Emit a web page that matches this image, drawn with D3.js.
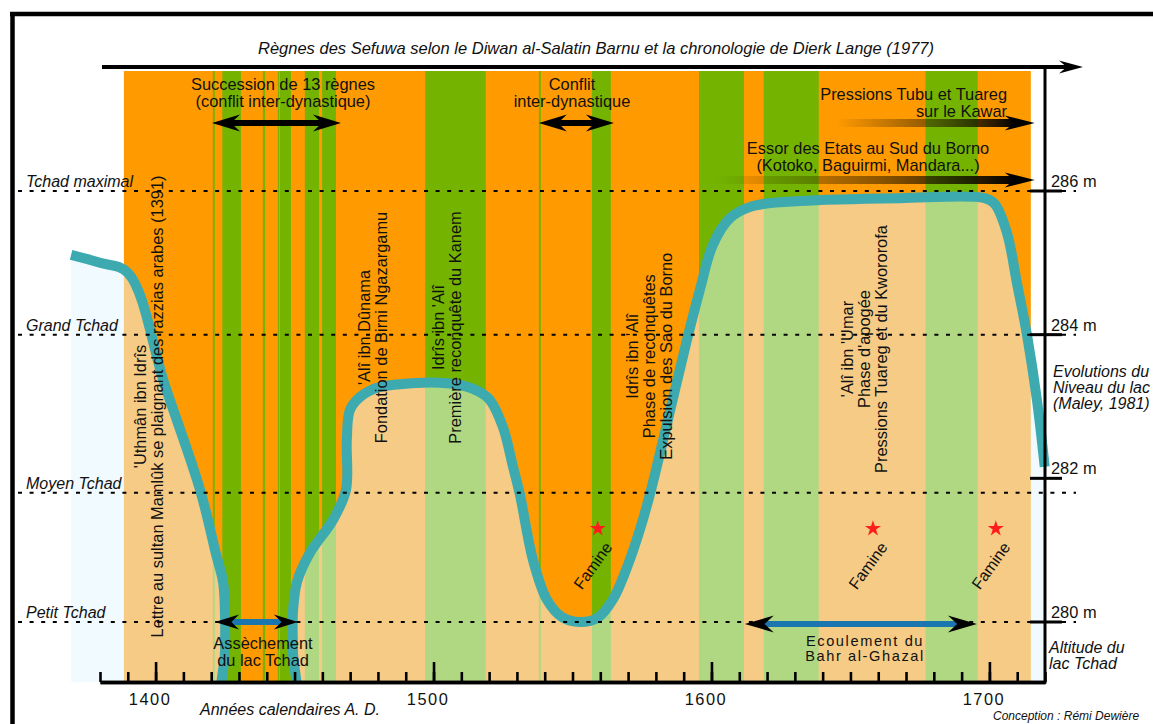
<!DOCTYPE html>
<html><head><meta charset="utf-8">
<script src="https://cdn.jsdelivr.net/npm/d3@7"></script>
<style>
body{margin:0;background:#fff;overflow:hidden;}
svg{display:block;font-family:"Liberation Sans",Arial,sans-serif;}
</style></head><body>
<svg id="c" width="1153" height="724"></svg>
<script>
// ---------------- DATA ----------------
const lakeYears = [1369.6,1380.0,1390.1,1403.3,1416.0,1421.7,1424.3,1425.0,1425.0,1425.0,
  1449.4,1449.4,1449.4,1450.9,1455.5,1463.8,1468.5,1468.8,1469.9,1473.5,1479.6,1487.9,1502.3,1510.6,
  1516.7,1520.3,1525.0,1528.6,1531.1,1535.8,1540.8,1546.2,1552.7,1559.1,1564.5,1569.9,1574.2,1577.8,
  1584.3,1591.2,1595.8,1600.5,1606.6,1614.9,1631.8,1667.8,1698.3,1701.9,1706.3,1709.9,1713.5,1717.1,1719.9];
const lakeAlt = [285.11,285.00,284.86,283.30,281.84,280.95,280.55,280.03,279.61,278.64,
  278.64,279.61,280.13,280.56,280.96,281.42,281.84,282.53,282.95,283.13,283.26,283.31,283.33,283.29,
  283.20,283.09,282.71,282.16,281.77,280.86,280.31,280.07,280.00,280.06,280.31,280.79,281.28,281.77,
  282.81,283.93,284.62,285.25,285.62,285.79,285.86,285.90,285.90,285.82,285.42,284.72,284.00,283.09,282.16];

const reignSpan = [1388.6, 1714.9];
const greenReignStart = [1420.6,1424.0,1438.6,1444.0,1444.7,1453.7,1459.9,1497.0,1537.9,1557.0,1595.5,1618.8,1677.0];
const greenReignEnd   = [1421.3,1430.7,1439.4,1444.4,1448.7,1458.8,1464.9,1518.8,1538.6,1563.8,1611.7,1638.6,1695.8];

const levelNames = ["Tchad maximal","Grand Tchad","Moyen Tchad","Petit Tchad"];
const levelAlts = [286, 284, 281.8, 280];
const altTicks = [286, 284, 282, 280];
const altTickLabels = ["286 m","284 m","282 m","280 m"];
const yearMajor = [1400,1500,1600,1700];
const yearMinor = d3.range(1380, 1721, 10);

const famineYears = [1559.1, 1658.1, 1702.3];
const famineAlt = 281.3;

const reignTexts = [
  ["'Uthmân ibn Idrîs","Lettre au sultan Mamlûk se plaignant des razzias arabes (1391)"],
  ["'Alî ibn Dûnama","Fondation de Birni Ngazargamu"],
  ["Idrîs ibn 'Alî","Première reconquête du Kanem"],
  ["Idrîs ibn 'Alî","Phase de reconquêtes","Expulsion des Sao du Borno"],
  ["'Alî ibn 'Umar","Phase d'apogée","Pressions Tuareg et du Kwororofa"]
];
const reignTextYears = [1396.4, 1477.2, 1503.8, 1573.7, 1651.1];
const reignTextAlts = [283.0, 284.1, 284.1, 283.7, 283.8];

const conflictLabels = [["Succession de 13 règnes","(conflit inter-dynastique)"],["Conflit","inter-dynastique"]];
const conflictStart = [1420.3, 1537.9];
const conflictEnd = [1466.7, 1564.9];

const pressureLabels = [["Pressions Tubu et Tuareg","sur le Kawar"],["Essor des Etats au Sud du Borno","(Kotoko, Baguirmi, Mandara...)"]];
const pressureStart = [1645.1, 1601.2];
const pressureEnd = [1716.3, 1716.3];

const waterLabels = [["Assèchement","du lac Tchad"],["Ecoulement du","Bahr al-Ghazal"]];
const waterStart = [1421.4, 1612.0];
const waterEnd = [1451.2, 1695.5];

// ---------------- LAYOUT ----------------
const C = {orange:"#ff9a00", green:"#74b400", paleOrange:"#f5cb85", paleGreen:"#b0d882",
  blue:"#f0faff", teal:"#3daab0", water:"#1b76b0", star:"#ff1c1c"};
const svg = d3.select("#c");
const x = d3.scaleLinear().domain([1380,1720]).range([100,1045]);
const y = d3.scaleLinear().domain([280,286]).range([622,191]);
const axisY = 682, bandTop = 71;
const F = 16.4;

// frame
svg.append("line").attr("x1",10).attr("x2",1153).attr("y1",14).attr("y2",14).attr("stroke","#000").attr("stroke-width",4.5);
svg.append("line").attr("x1",12.5).attr("x2",12.5).attr("y1",12).attr("y2",724).attr("stroke","#000").attr("stroke-width",4.5);

const defs = svg.append("defs");
const pts = lakeYears.map((d,i)=>[d, lakeAlt[i]]);
const curve = d3.curveCatmullRom.alpha(0.5);
const area = d3.area().x(d=>x(d[0])).y1(d=>y(d[1])).y0(axisY).curve(curve);
const line = d3.line().x(d=>x(d[0])).y(d=>y(d[1])).curve(curve);
defs.append("clipPath").attr("id","lake").append("path").attr("d", area(pts));
defs.append("clipPath").attr("id","plot").append("rect").attr("x",0).attr("y",0).attr("width",1153).attr("height",axisY);
const grad = defs.append("linearGradient").attr("id","fade").attr("x1","0").attr("x2","1").attr("y1","0").attr("y2","0");
grad.append("stop").attr("offset","0").attr("stop-color","#2a1a00").attr("stop-opacity",0);
grad.append("stop").attr("offset","0.55").attr("stop-color","#2a1a00").attr("stop-opacity",0.55);
grad.append("stop").attr("offset","1").attr("stop-color","#000").attr("stop-opacity",1);

const greens = greenReignStart.map((s,i)=>[s, greenReignEnd[i]]);
// full-colour bands
const bands = svg.append("g");
bands.append("rect").attr("x",x(reignSpan[0])).attr("width",x(reignSpan[1])-x(reignSpan[0]))
  .attr("y",bandTop).attr("height",axisY-bandTop).attr("fill",C.orange);
bands.selectAll(".g").data(greens).join("rect").attr("x",d=>x(d[0])).attr("width",d=>x(d[1])-x(d[0]))
  .attr("y",bandTop).attr("height",axisY-bandTop).attr("fill",C.green);
// pale (under lake curve)
const pale = svg.append("g").attr("clip-path","url(#lake)");
pale.append("rect").attr("x",x(lakeYears[0])).attr("width",x(1720)-x(lakeYears[0])).attr("y",bandTop).attr("height",axisY-bandTop).attr("fill",C.blue);
pale.append("rect").attr("x",x(reignSpan[0])).attr("width",x(reignSpan[1])-x(reignSpan[0]))
  .attr("y",bandTop).attr("height",axisY-bandTop).attr("fill",C.paleOrange);
pale.selectAll(".g").data(greens).join("rect").attr("x",d=>x(d[0])).attr("width",d=>x(d[1])-x(d[0]))
  .attr("y",bandTop).attr("height",axisY-bandTop).attr("fill",C.paleGreen);

// lake line
svg.append("g").attr("clip-path","url(#plot)").append("path").attr("d",line(pts))
  .attr("fill","none").attr("stroke",C.teal).attr("stroke-width",10).attr("stroke-linejoin","round");

// level dotted lines
svg.selectAll(".lvl").data(levelAlts).join("line").attr("x1",18).attr("x2",1076)
  .attr("y1",d=>y(d)).attr("y2",d=>y(d)).attr("stroke","#000").attr("stroke-width",2).attr("stroke-dasharray","4,7.6");
svg.selectAll(".lvlt").data(levelNames).join("text").attr("x",26).attr("y",(d,i)=>y(levelAlts[i])-4)
  .attr("font-size",F-0.4).attr("font-style","italic").attr("fill","#111").text(d=>d);

// reign vertical texts
reignTexts.forEach((lines,i)=>{
  const g = svg.append("g").attr("transform",`translate(${x(reignTextYears[i])},${y(reignTextAlts[i])}) rotate(-90)`);
  g.selectAll("text").data(lines).join("text").attr("x",0).attr("y",(d,j)=>j*17)
    .attr("text-anchor","middle").attr("font-size",F).attr("fill","#111").text(d=>d);
});

// arrow helpers
function head(g, tx, ty, dir, L, H){
  g.append("path").attr("d",`M${tx},${ty} L${tx-dir*L},${ty-H/2} L${tx-dir*L*0.68},${ty} L${tx-dir*L},${ty+H/2} Z`).attr("fill","#000");
}
function centerText(g, lines, cx, by, sp, fs, ls){
  g.selectAll(null).data(lines).join("text").attr("x",cx).attr("y",(d,j)=>by+j*sp)
   .attr("text-anchor","middle").attr("font-size",fs||F).attr("fill","#111").attr("letter-spacing",ls||0).text(d=>d);
}
// conflict arrows (black double)
const ann = svg.append("g");
const conflictTextX = [283, 572];
conflictLabels.forEach((lines,i)=>{
  const x1 = x(conflictStart[i]), x2 = x(conflictEnd[i]), yy = 123;
  ann.append("line").attr("x1",x1+15).attr("x2",x2-15).attr("y1",yy).attr("y2",yy).attr("stroke","#000").attr("stroke-width",6);
  head(ann, x1, yy, -1, 28, 17); head(ann, x2, yy, 1, 28, 17);
  centerText(ann, lines, conflictTextX[i], 90, 17);
});
// pressure arrows (fading)
pressureLabels.forEach((lines,i)=>{
  const x1 = x(pressureStart[i]), x2 = x(pressureEnd[i]), yy = i===0?123:180;
  ann.append("rect").attr("x",x1).attr("width",x2-x1-18).attr("y",yy-4).attr("height",8).attr("fill","url(#fade)");
  head(ann, x2, yy, 1, 30, 15);
  if(i===0){
    ann.selectAll(null).data(lines).join("text").attr("x",1007).attr("y",(d,j)=>100+j*16.5)
      .attr("text-anchor","end").attr("font-size",F).attr("fill","#111").text(d=>d);
  } else {
    centerText(ann, lines, 868, 154, 17);
  }
});
// water arrows (blue shaft)
waterLabels.forEach((lines,i)=>{
  const x1 = x(waterStart[i]), x2 = x(waterEnd[i]), yy = i===0?622:624;
  const L = i===0?24:29, H = i===0?15:17;
  ann.append("line").attr("x1",x1+L*0.6).attr("x2",x2-L*0.6).attr("y1",yy).attr("y2",yy).attr("stroke",C.water).attr("stroke-width",6);
  head(ann, x1, yy, -1, L, H); head(ann, x2, yy, 1, L, H);
  if(i===0) centerText(ann, lines, 263, 649, 17);
  else centerText(ann, lines, 865, 646, 14.5, 14.6, 1.6);
});

// famine
svg.selectAll(".star").data(famineYears).join("path").attr("d",d3.symbol(d3.symbolStar).size(80))
  .attr("transform",d=>`translate(${x(d)},${y(famineAlt)})`).attr("fill",C.star);
svg.selectAll(".fam").data(famineYears).join("text").attr("text-anchor","middle").attr("font-size",F-0.4).attr("fill","#111")
  .attr("transform",d=>`translate(${x(d)-5},${y(famineAlt)+37}) rotate(-54)`).attr("dy","0.35em").text("Famine");

// top arrow
svg.append("line").attr("x1",102).attr("x2",1068).attr("y1",67).attr("y2",67).attr("stroke","#000").attr("stroke-width",4);
head(svg, 1083, 67, 1, 24, 13);
svg.append("text").attr("x",596).attr("y",54).attr("text-anchor","middle").attr("font-size",16.5).attr("font-style","italic").attr("fill","#111")
  .text("Règnes des Sefuwa selon le Diwan al-Salatin Barnu et la chronologie de Dierk Lange (1977)");

// x axis
const gMinor = svg.append("g").attr("transform",`translate(0,${axisY})`)
  .call(d3.axisBottom(x).tickValues(yearMinor).tickSizeInner(-10).tickSizeOuter(0).tickFormat(""));
const gMajor = svg.append("g").attr("transform",`translate(0,${axisY})`)
  .call(d3.axisBottom(x).tickValues(yearMajor).tickSizeInner(-20).tickSizeOuter(0).tickPadding(11).tickFormat(d3.format("d")));
[gMinor,gMajor].forEach(g=>{
  g.select(".domain").attr("stroke","#000").attr("stroke-width",3.5);
  g.selectAll(".tick line").attr("stroke","#000").attr("stroke-width",2.6);
});
gMajor.selectAll(".tick text").attr("font-size",F).attr("font-family","Liberation Sans, Arial, sans-serif")
  .attr("fill","#111").attr("letter-spacing",1.5).attr("dx",-6);
svg.append("text").attr("x",200).attr("y",715).attr("font-size",F-0.4).attr("font-style","italic").attr("fill","#111").text("Années calendaires A. D.");

// right axis
svg.append("line").attr("x1",1045).attr("x2",1045).attr("y1",65).attr("y2",axisY+1.5).attr("stroke","#000").attr("stroke-width",3);
svg.selectAll(".at").data(altTicks).join("line").attr("x1",1030).attr("x2",1062)
  .attr("y1",d=>y(d)).attr("y2",d=>y(d)).attr("stroke","#000").attr("stroke-width",3);
svg.selectAll(".atl").data(altTickLabels).join("text").attr("x",1051).attr("y",(d,i)=>y(altTicks[i])-4)
  .attr("font-size",F).attr("fill","#111").text(d=>d);
svg.selectAll(".rl").data(["Evolutions du","Niveau du lac","(Maley, 1981)"]).join("text")
  .attr("x",1053).attr("y",(d,i)=>377+i*16).attr("font-size",F-0.4).attr("font-style","italic").attr("fill","#111").text(d=>d);
svg.selectAll(".al").data(["Altitude du","lac Tchad"]).join("text")
  .attr("x",1049).attr("y",(d,i)=>653+i*16).attr("font-size",F-0.4).attr("font-style","italic").attr("fill","#111").text(d=>d);
svg.append("text").attr("x",993).attr("y",720).attr("font-size",12).attr("font-style","italic").attr("fill","#111").text("Conception : Rémi Dewière");
</script>
</body></html>
